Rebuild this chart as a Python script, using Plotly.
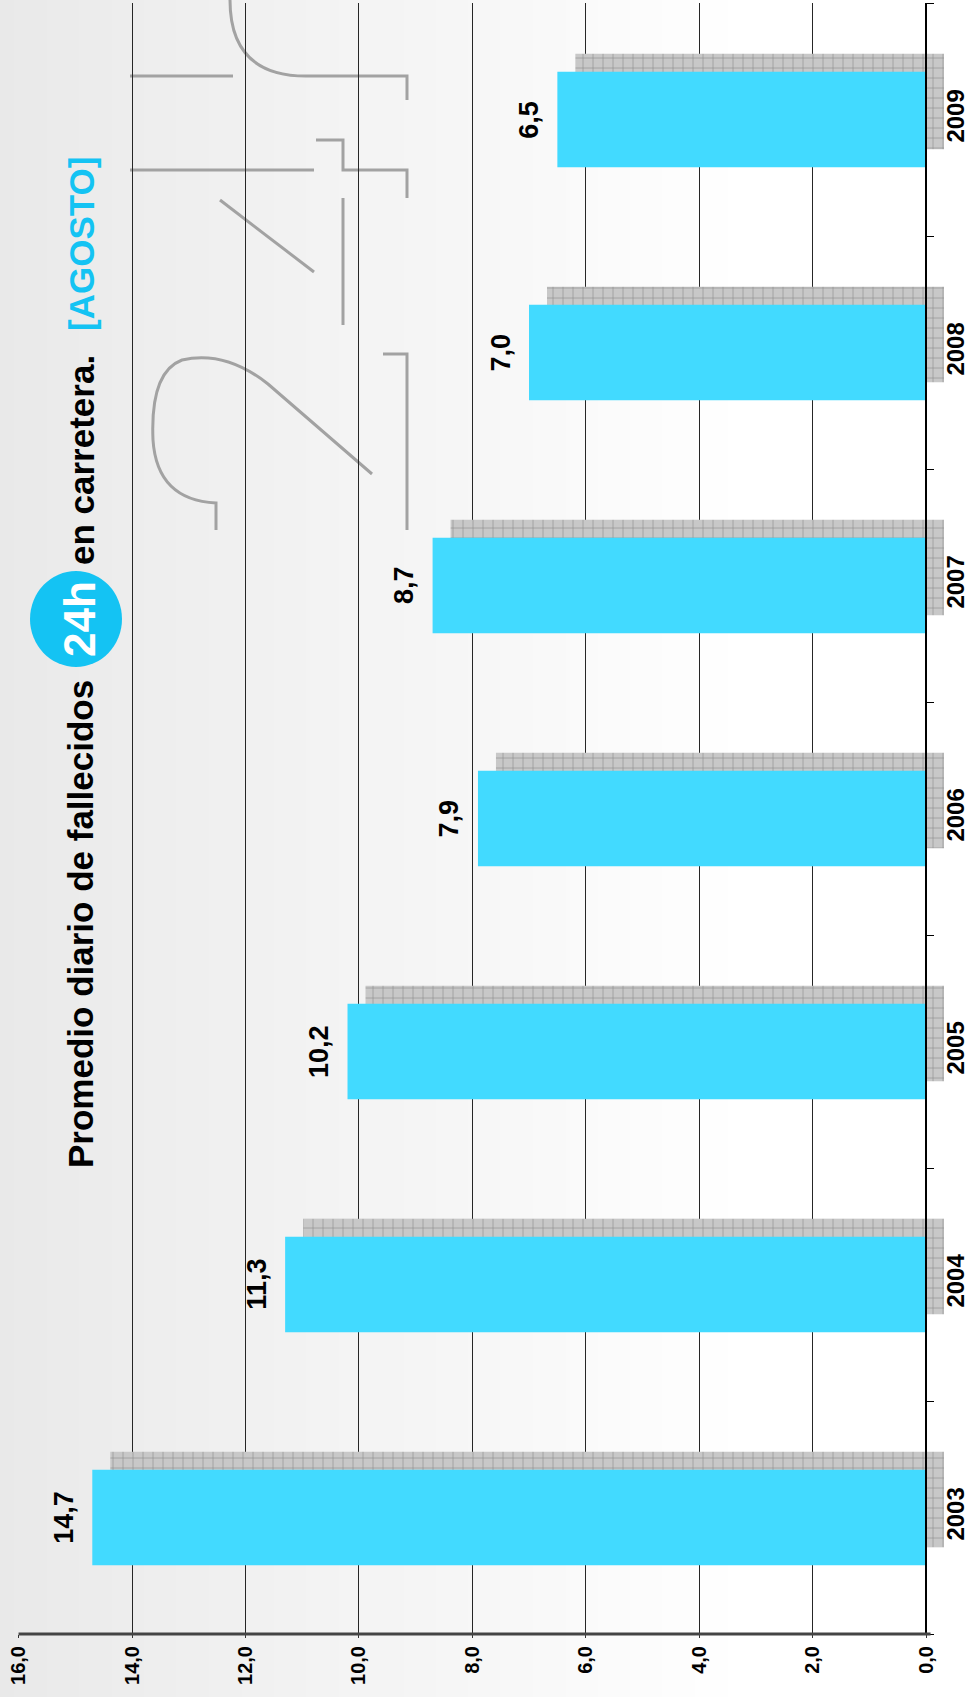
import plotly.graph_objects as go

# ---------------- data ----------------
years = ['2003', '2004', '2005', '2006', '2007', '2008', '2009']
values = [14.7, 11.3, 10.2, 7.9, 8.7, 7.0, 6.5]
value_labels = ['14,7', '11,3', '10,2', '7,9', '8,7', '7,0', '6,5']
x_tick_vals = [0, 2, 4, 6, 8, 10, 12, 14, 16]
x_tick_text = ['0,0', '2,0', '4,0', '6,0', '8,0', '10,0', '12,0', '14,0', '16,0']

# ---------------- layout geometry ----------------
W, H = 974, 1697
ML, MR, MT, MB = 18, 24, 3, 63
PW, PH = W - ML - MR, H - MT - MB
ZERO_PX = 926  # pixel x of value 0


def px(x):
    return (x - ML) / PW


def py(y):
    return (H - MB - y) / PH


UNIT = 16.0 / (ZERO_PX - ML)          # value units per pixel
XMAX_NEG = -(ML + PW - ZERO_PX) * UNIT  # right end of range (past zero)
SH_DX = 18 * UNIT                      # shadow shift in value units
BAR_W = 0.41
SH_DY = 0.077

FONT = 'Liberation Sans, Arial, sans-serif'
CYAN_BAR = '#42DAFF'
CYAN_T = '#14C3F3'

fig = go.Figure()

# shadow bars (hatched grey)
fig.add_trace(go.Bar(
    y=years, x=values, base=[-SH_DX] * len(values), orientation='h',
    width=BAR_W, offset=-BAR_W / 2 + SH_DY,
    marker=dict(color='#c4c4c4', line=dict(width=0),
                pattern=dict(shape='+', size=10, solidity=0.12,
                             fgcolor='#8a8a8a', bgcolor='#c8c8c8', fillmode='replace')),
    hoverinfo='skip', showlegend=False,
))

# main bars
fig.add_trace(go.Bar(
    y=years, x=values, orientation='h', width=BAR_W, offset=-BAR_W / 2,
    marker=dict(color=CYAN_BAR, line=dict(width=0)),
    showlegend=False,
))

annotations = []
for i, (v, lab) in enumerate(zip(values, value_labels)):
    annotations.append(dict(
        x=v, y=i, xref='x', yref='y', text=f'<b>{lab}</b>', showarrow=False,
        textangle=-90, xanchor='center', yanchor='middle', xshift=-29,
        font=dict(family=FONT, size=27, color='black')))

# title pieces (rotated)
annotations += [
    dict(x=px(81), y=py(924), xref='paper', yref='paper', showarrow=False,
         text='<b>Promedio diario de fallecidos</b>', textangle=-90,
         xanchor='center', yanchor='middle',
         font=dict(family=FONT, size=35, color='black')),
    dict(x=px(79), y=py(619), xref='paper', yref='paper', showarrow=False,
         text='<b>24h</b>', textangle=-90, xanchor='center', yanchor='middle',
         font=dict(family=FONT, size=44, color='white')),
    dict(x=px(81), y=py(460), xref='paper', yref='paper', showarrow=False,
         text='<b>en carretera.</b>', textangle=-90,
         xanchor='center', yanchor='middle',
         font=dict(family=FONT, size=35, color='black')),
    dict(x=px(81), y=py(244), xref='paper', yref='paper', showarrow=False,
         text='<b>[AGOSTO]</b>', textangle=-90,
         xanchor='center', yanchor='middle',
         font=dict(family=FONT, size=35, color=CYAN_T)),
]

shapes = []
# background gradient (left grey satin fading to white)
n = 24
x_end = 760
for i in range(n):
    x0 = -ML + i * (x_end + ML) / n
    x1 = -ML + (i + 1) * (x_end + ML) / n
    t = i / (n - 1)
    c = int(round(233 + (255 - 233) * t))
    shapes.append(dict(type='rect', xref='paper', yref='paper', layer='below',
                       x0=px(x0), x1=px(x1 + 1), y0=py(H), y1=py(0),
                       fillcolor=f'rgb({c},{c},{c})', line=dict(width=0)))


def path_px(pts_cmds):
    out = []
    for item in pts_cmds:
        if isinstance(item, str):
            out.append(item)
        else:
            out.append(f'{px(item[0]):.5f},{py(item[1]):.5f}')
    return ' '.join(out)


wm = dict(color='#a2a2a2', width=3)
wm_paths = [
    ['M', (130, 76), 'L', (233, 76)],
    ['M', (230, 0), 'Q', (230, 76), (306, 76), 'L', (407, 76), 'L', (407, 100)],
    ['M', (130, 170), 'L', (314, 170)],
    ['M', (316, 140), 'L', (343, 140), 'L', (343, 170), 'L', (407, 170), 'L', (407, 198)],
    ['M', (343, 198), 'L', (343, 325)],
    ['M', (220, 200), 'L', (314, 272)],
    ['M', (372, 474), 'L', (268, 384), 'Q', (225, 350), (182, 360), 'Q', (150, 372), (153, 440),
     'Q', (157, 500), (216, 503), 'L', (216, 530)],
    ['M', (383, 354), 'L', (407, 354), 'L', (407, 530)],
]
for p in wm_paths:
    shapes.append(dict(type='path', xref='paper', yref='paper', layer='below',
                       path=path_px(p), line=wm))

# title circle
shapes.append(dict(type='circle', xref='paper', yref='paper', layer='above',
                   x0=px(30), x1=px(122), y0=py(571), y1=py(667),
                   fillcolor=CYAN_T, line=dict(width=0)))

# bottom value-axis line
shapes.append(dict(type='line', xref='x', yref='paper', layer='above',
                   x0=16, x1=-0.08, y0=0, y1=0, line=dict(color='#444444', width=3)))

fig.update_layout(
    width=W, height=H,
    margin=dict(l=ML, r=MR, t=MT, b=MB, pad=0, autoexpand=False),
    paper_bgcolor='white', plot_bgcolor='rgba(0,0,0,0)',
    barmode='overlay', bargap=0.59,
    showlegend=False,
    annotations=annotations, shapes=shapes,
    xaxis=dict(range=[16.01, XMAX_NEG], tickvals=x_tick_vals, ticktext=x_tick_text,
               tickangle=-90, tickfont=dict(family=FONT, size=20, color='black', weight='bold'),
               showgrid=True, gridcolor='#262626', gridwidth=1, zeroline=False,
               showline=False, ticks='outside', ticklen=3, tickcolor='#333',
               automargin=False, fixedrange=True),
    yaxis=dict(type='category', categoryorder='array', categoryarray=years,
               range=[-0.5, 6.5], anchor='free', position=px(ZERO_PX), side='right',
               showline=True, linecolor='black', linewidth=2,
               ticks='outside', tickson='boundaries', ticklen=7, tickcolor='black',
               tickangle=-90, ticklabelstandoff=8,
               tickfont=dict(family=FONT, size=24, color='black', weight='bold'),
               showgrid=False, zeroline=False, automargin=False, fixedrange=True),
)

fig.write_html('out.html', config={'displayModeBar': False},
               post_script="document.body.style.margin='0px';document.body.style.overflow='hidden';")
